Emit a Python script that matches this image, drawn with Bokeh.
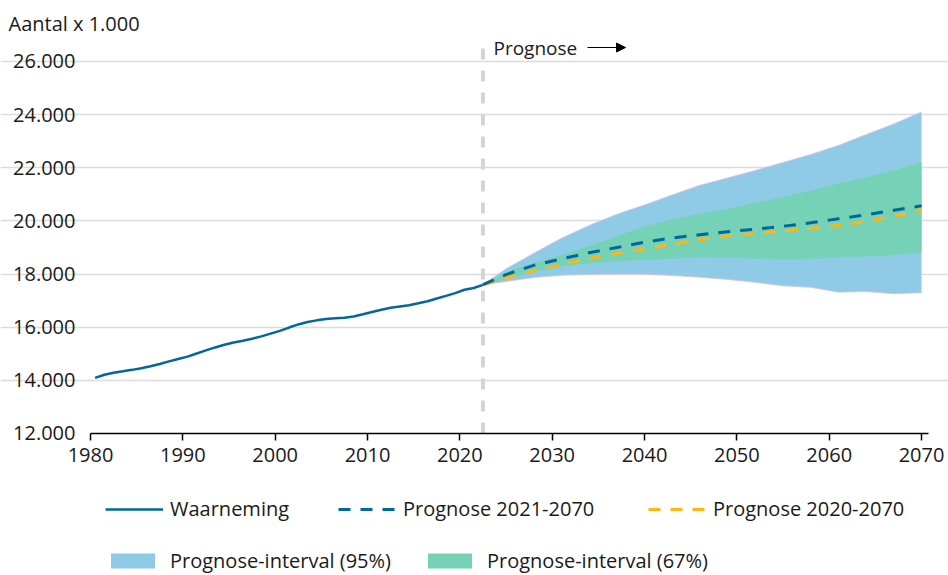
from bokeh.plotting import figure
from bokeh.models import (Legend, LegendItem, Label, Arrow, NormalHead,
                          FixedTicker, ColumnDataSource, Range1d)
from bokeh.embed import file_html
from bokeh.resources import INLINE

# ---- data (x 1.000) ----
obs_years = list(range(1980, 2023))
obs_values = [14091, 14209, 14286, 14340, 14395, 14454, 14529, 14615, 14715, 14805,
              14893, 15010, 15129, 15239, 15342, 15424, 15494, 15567, 15654, 15760,
              15864, 15987, 16105, 16193, 16258, 16306, 16334, 16358, 16405, 16486,
              16575, 16656, 16730, 16780, 16829, 16901, 16979, 17082, 17181, 17282,
              17408, 17475, 17591]

forecast_start = 2022.5
prog_x = [2022.5, 2025, 2028, 2031, 2034, 2037, 2040, 2043, 2046, 2049,
          2052, 2055, 2058, 2061, 2064, 2067, 2070]
upper95 = [17600, 18200, 18780, 19350, 19830, 20250, 20600, 20980, 21340, 21620,
           21900, 22200, 22500, 22840, 23250, 23650, 24100]
lower95 = [17600, 17720, 17870, 17960, 17990, 18000, 18000, 17950, 17880, 17800,
           17690, 17560, 17500, 17320, 17340, 17260, 17300]
upper67 = [17600, 18060, 18420, 18700, 19050, 19420, 19800, 20050, 20270, 20460,
           20680, 20900, 21140, 21400, 21640, 21900, 22220]
lower67 = [17600, 17800, 18080, 18290, 18400, 18480, 18530, 18590, 18630, 18620,
           18580, 18550, 18570, 18630, 18660, 18720, 18810]
prog_2021 = [17600, 17980, 18330, 18570, 18800, 19000, 19200, 19360, 19480, 19590,
             19690, 19800, 19930, 20080, 20230, 20400, 20570]
prog_2020 = [17600, 17850, 18130, 18370, 18580, 18780, 18950, 19120, 19300, 19430,
             19530, 19630, 19720, 19830, 19980, 20170, 20410]

x_ticks = list(range(1980, 2071, 10))
y_ticks = list(range(12000, 26001, 2000))
y_tick_labels = ["12.000", "14.000", "16.000", "18.000", "20.000", "22.000", "24.000", "26.000"]
x_axis_min, x_axis_max = 1980, 2070.8
y_axis_min = 12000
y_top = 26790

FONT = "Open Sans"
TXT = "#1a1a1a"
DARKBLUE = "#01689b"
YELLOW = "#ffb612"
LIGHTBLUE = "#8fcae7"
MINT = "#76d2b6"

# the frame covers the canvas below the title, so that legend and labels are not clipped
p = figure(width=948, height=575, output_backend="svg", toolbar_location=None,
           x_range=Range1d(1970.253, 2072.92), y_range=Range1d(6656, y_top),
           min_border_left=0, min_border_right=0, min_border_top=40,
           min_border_bottom=0)
p.outline_line_color = None
p.background_fill_color = "white"
p.border_fill_color = "white"

p.title.text = "Aantal x 1.000"
p.title.align = "left"
p.title.offset = 8
p.title.standoff = 8
p.title.text_font = FONT
p.title.text_font_size = "20px"
p.title.text_font_style = "normal"
p.title.text_color = TXT

# axes
p.xaxis.fixed_location = y_axis_min
p.xaxis.bounds = (x_axis_min, x_axis_max)
p.xaxis.ticker = FixedTicker(ticks=x_ticks)
p.xaxis.axis_line_color = "black"
p.xaxis.axis_line_width = 1.5
p.xaxis.major_tick_line_color = "black"
p.xaxis.major_tick_line_width = 1.5
p.xaxis.major_tick_in = 0
p.xaxis.major_tick_out = 7
p.xaxis.minor_tick_line_color = None
p.xaxis.major_label_standoff = 8
p.xaxis.major_label_text_font = FONT
p.xaxis.major_label_text_font_size = "20px"
p.xaxis.major_label_text_color = TXT

p.yaxis.fixed_location = x_axis_min
p.yaxis.ticker = FixedTicker(ticks=y_ticks)
p.yaxis.major_label_overrides = {t: l for t, l in zip(y_ticks, y_tick_labels)}
p.yaxis.axis_line_color = None
p.yaxis.major_tick_line_color = None
p.yaxis.minor_tick_line_color = None
p.yaxis.major_tick_out = 0
p.yaxis.major_tick_in = 0
p.yaxis.major_label_standoff = 15
p.yaxis.major_label_text_font = FONT
p.yaxis.major_label_text_font_size = "20px"
p.yaxis.major_label_text_color = TXT

p.xgrid.grid_line_color = None
p.ygrid.ticker = FixedTicker(ticks=y_ticks[1:])
p.ygrid.bounds = (x_axis_min, 2070.5)
p.ygrid.grid_line_color = "#dcdcdc"
p.ygrid.grid_line_width = 1.5

# bands
src = ColumnDataSource(dict(x=prog_x, u95=upper95, l95=lower95, u67=upper67,
                            l67=lower67, p21=prog_2021, p20=prog_2020))
band95 = p.varea(x="x", y1="l95", y2="u95", source=src, fill_color=LIGHTBLUE)
p.line(x="x", y="u95", source=src, line_color="#d6bfe6", line_width=1, line_alpha=0.8)
p.line(x="x", y="l95", source=src, line_color="#d6bfe6", line_width=1, line_alpha=0.8)
band67 = p.varea(x="x", y1="l67", y2="u67", source=src, fill_color=MINT)

# vertical forecast divider
p.segment(x0=[forecast_start], y0=[y_axis_min], x1=[forecast_start], y1=[y_top],
          line_color="#d4d4d4", line_width=4, line_dash="11 11")

obs_src = ColumnDataSource(dict(x=[y + 0.5 for y in obs_years], y=obs_values))
obs = p.line(x="x", y="y", source=obs_src, line_color=DARKBLUE, line_width=2.5)
l20 = p.line(x="x", y="p20", source=src, line_color=YELLOW, line_width=3, line_dash="12 10")
l21 = p.line(x="x", y="p21", source=src, line_color=DARKBLUE, line_width=3, line_dash="12 10")

# texts
p.add_layout(Label(x=493, y=528, x_units="screen", y_units="screen", text="Prognose",
                   text_font=FONT, text_font_size="19px", text_color=TXT,
                   text_baseline="middle"))
p.add_layout(Arrow(end=NormalHead(size=9, fill_color="black", line_color="black"),
                   x_start=587, y_start=528, x_end=625, y_end=528,
                   start_units="screen", end_units="screen",
                   line_color="black", line_width=1.2))

def add_legend(label, renderer, x, y, gw, gh, standoff):
    leg = Legend(items=[LegendItem(label=label, renderers=[renderer])],
                 location=(x, y), orientation="horizontal", padding=0, margin=0,
                 spacing=0, glyph_width=gw, glyph_height=gh, label_standoff=standoff,
                 label_text_font=FONT, label_text_font_size="20px",
                 label_text_color=TXT, label_height=gh,
                 border_line_alpha=0, background_fill_alpha=0)
    p.add_layout(leg)

add_legend("Waarneming", obs, 105, 53, 58, 20, 7)
add_legend("Prognose 2021-2070", l21, 338, 53, 58, 20, 7)
add_legend("Prognose 2020-2070", l20, 648, 53, 58, 20, 7)
add_legend("Prognose-interval (95%)", band95, 105, 1, 55, 19, 10)
add_legend("Prognose-interval (67%)", band67, 422, 1, 55, 19, 10)

open("out.html", "w").write(file_html(p, INLINE))
